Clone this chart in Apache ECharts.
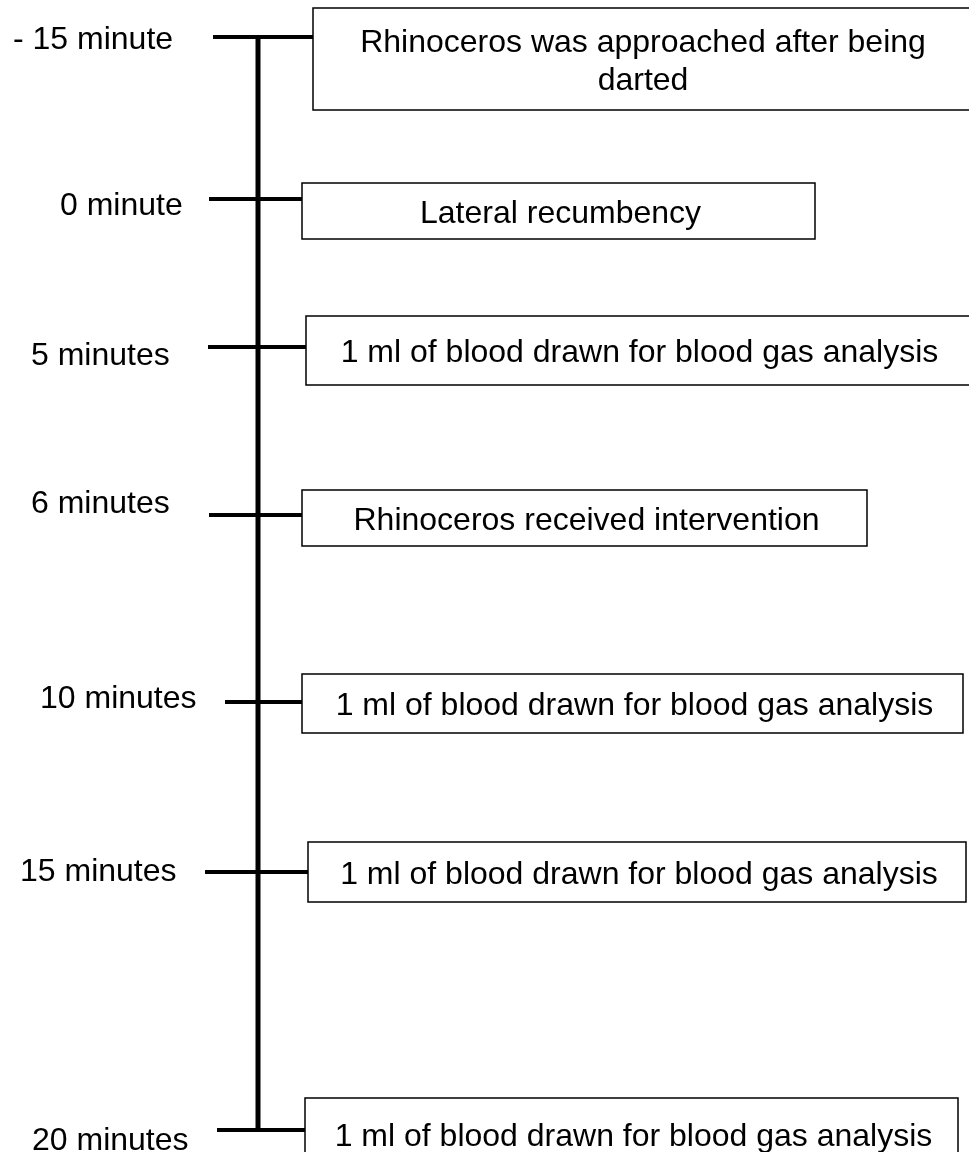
<!DOCTYPE html>
<html>
<head>
<meta charset="utf-8">
<title>Rhinoceros procedure timeline</title>
<script src="https://cdn.jsdelivr.net/npm/echarts@6/dist/echarts.min.js"></script>
<style>
  html, body { margin: 0; padding: 0; background: #fff; }
  #chart { width: 969px; height: 1152px; }
</style>
</head>
<body>
<div id="chart"></div>
<script>
// timeline content
const timeLabels = ['- 15 minute', '0 minute', '5 minutes', '6 minutes', '10 minutes', '15 minutes', '20 minutes']
const events = [
  'Rhinoceros was approached after being\ndarted',
  'Lateral recumbency',
  '1 ml of blood drawn for blood gas analysis',
  'Rhinoceros received intervention',
  '1 ml of blood drawn for blood gas analysis',
  '1 ml of blood drawn for blood gas analysis',
  '1 ml of blood drawn for blood gas analysis'
]

// layout, in page pixels
const tickY = [37, 199, 347, 515, 702, 872, 1130]
const tickStart = [213, 209, 208, 209, 225, 205, 217]
const labelLeft = [13, 60, 31, 31, 40, 20, 32]
const labelY = [40, 206, 356, 504, 699, 872, 1141]
const boxLeft = [313, 302, 306, 302, 302, 308, 305]
const boxRight = [975, 815, 975, 867, 963, 966, 958]
const boxTop = [8, 183, 316, 490, 674, 842, 1098]
const boxBottom = [110, 239, 385, 546, 733, 902, 1170]
const spineX = 258

const FONT = '32px "Liberation Sans", Arial, sans-serif'

const chart = echarts.init(document.getElementById('chart'))

function renderRow(params, api) {
  const i = params.dataIndex
  const c = (x, y) => api.coord([x, y])
  const t0 = c(tickStart[i], tickY[i])
  const t1 = c(boxLeft[i], tickY[i])
  const b0 = c(boxLeft[i], boxTop[i])
  const b1 = c(boxRight[i], boxBottom[i])
  const lab = c(labelLeft[i], labelY[i])
  // text sits a little below box middle; centre it on the visible part
  const visRight = Math.min(b1[0], 969)
  const tx = (b0[0] + visRight) / 2 + 2
  const ty = (b0[1] + b1[1]) / 2 + 3

  return {
    type: 'group',
    children: [
      {
        type: 'line',
        shape: { x1: t0[0], y1: t0[1], x2: t1[0], y2: t1[1] },
        style: { stroke: '#000', lineWidth: 4 }
      },
      {
        type: 'rect',
        shape: { x: b0[0], y: b0[1], width: b1[0] - b0[0], height: b1[1] - b0[1] },
        style: { fill: '#fff', stroke: '#000', lineWidth: 1.5 }
      },
      {
        type: 'text',
        x: tx,
        y: ty,
        style: {
          text: events[i],
          font: FONT,
          fill: '#000',
          align: 'center',
          verticalAlign: 'middle',
          lineHeight: 38
        }
      },
      {
        type: 'text',
        x: lab[0],
        y: lab[1],
        style: {
          text: timeLabels[i],
          font: FONT,
          fill: '#000',
          align: 'left',
          verticalAlign: 'middle'
        }
      }
    ]
  }
}

function renderSpine(params, api) {
  const top = api.coord([spineX, tickY[0]])
  const bottom = api.coord([spineX, tickY[tickY.length - 1]])
  return {
    type: 'line',
    shape: { x1: top[0], y1: top[1], x2: bottom[0], y2: bottom[1] },
    style: { stroke: '#000', lineWidth: 5 }
  }
}

const option = {
  animation: false,
  backgroundColor: '#fff',
  grid: { left: 0, right: 0, top: 0, bottom: 0 },
  xAxis: { type: 'value', min: 0, max: 969, show: false },
  yAxis: { type: 'value', min: 0, max: 1152, inverse: true, show: false },
  series: [
    {
      type: 'custom',
      clip: false,
      renderItem: renderSpine,
      data: [[spineX, tickY[0]]]
    },
    {
      type: 'custom',
      clip: false,
      renderItem: renderRow,
      data: tickY.map((y, i) => [tickStart[i], y])
    }
  ]
}

chart.setOption(option)
</script>
</body>
</html>
